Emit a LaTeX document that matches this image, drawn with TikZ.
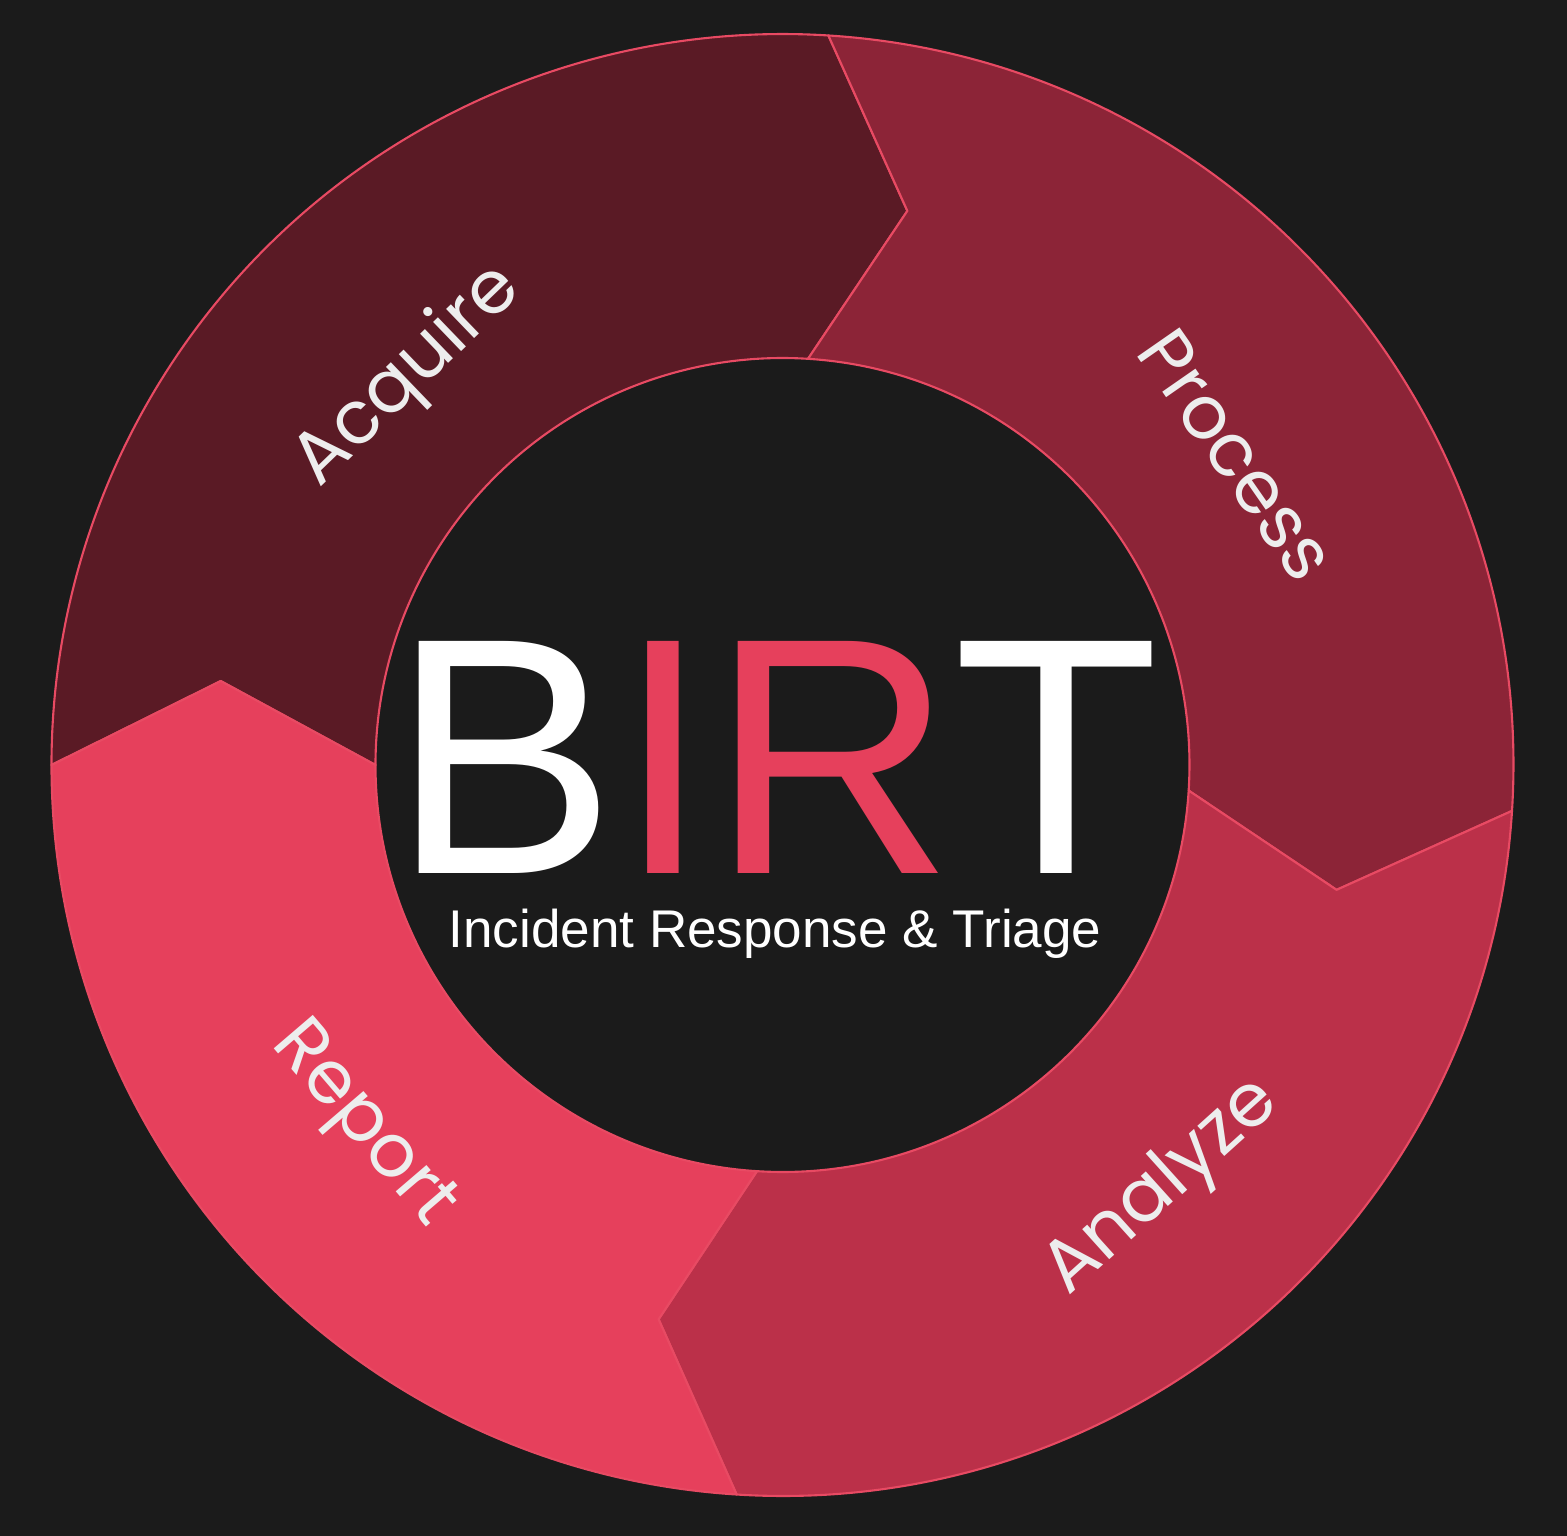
\documentclass[tikz,border=0pt]{standalone}
\usepackage{fontspec}
\setmainfont{Liberation Sans}
\newfontfamily\labelfont{Poppins}
\definecolor{bgc}{HTML}{1B1B1B}
\definecolor{acqc}{HTML}{5A1A25}
\definecolor{procc}{HTML}{8C2437}
\definecolor{analc}{HTML}{BB3049}
\definecolor{repc}{HTML}{E6405C}
\definecolor{edgec}{HTML}{E84A63}
\definecolor{lblc}{HTML}{EDEDED}
\begin{document}
\begin{tikzpicture}[
  seg/.style={draw=edgec, line width=0.6pt, line join=round},
  lbl/.style={inner sep=0pt, text=lblc, font=\labelfont\fontsize{21}{21}\selectfont}
]
\fill[bgc] (-7.825,-7.71) rectangle (7.845,7.65);
\useasboundingbox (-7.825,-7.71) rectangle (7.845,7.65);
\def\Ro{7.31}
\def\Ri{4.07}
\def\Rm{5.68}
% Acquire
\path[seg, fill=acqc] (180:\Ro) arc[start angle=180, end angle=86.4, radius=\Ro]
  -- (77.3:\Rm) -- (86.4:\Ri) arc[start angle=86.4, end angle=180, radius=\Ri]
  -- (171.5:\Rm) -- cycle;
% Process
\path[seg, fill=procc] (86.4:\Ro) arc[start angle=86.4, end angle=-3.6, radius=\Ro]
  -- (-12.7:\Rm) -- (-3.6:\Ri) arc[start angle=-3.6, end angle=86.4, radius=\Ri]
  -- (77.3:\Rm) -- cycle;
% Analyze
\path[seg, fill=analc] (-3.6:\Ro) arc[start angle=-3.6, end angle=-93.6, radius=\Ro]
  -- (-102.6:\Rm) -- (-93.6:\Ri) arc[start angle=-93.6, end angle=-3.6, radius=\Ri]
  -- (-12.7:\Rm) -- cycle;
% Report
\path[seg, fill=repc] (-93.6:\Ro) arc[start angle=-93.6, end angle=-180, radius=\Ro]
  -- (-188.5:\Rm) -- (-180:\Ri) arc[start angle=-180, end angle=-93.6, radius=\Ri]
  -- (-102.6:\Rm) -- cycle;

\node[lbl, rotate=43.9] (acq) at (133.9:5.39) {Acquire};
\node[lbl, rotate=-55.2] (proc) at (34.3:5.50) {Process};
\node[lbl, rotate=42] (anal) at (-48:5.69) {Analyze};
\node[lbl, rotate=-49.4] (rep) at (220.6:5.55) {Report};

\node[anchor=base, inner sep=0pt, font=\fontsize{96}{96}\selectfont] (title) at (-0.07,-1.09)
  {\textcolor{white}{B}\textcolor{repc}{IR}\textcolor{white}{T}};
\node[anchor=base, inner sep=0pt, text=white, font=\fontsize{15.1}{15.1}\selectfont] (sub) at (-0.075,-1.83)
  {Incident Response \& Triage};
\end{tikzpicture}
\end{document}
